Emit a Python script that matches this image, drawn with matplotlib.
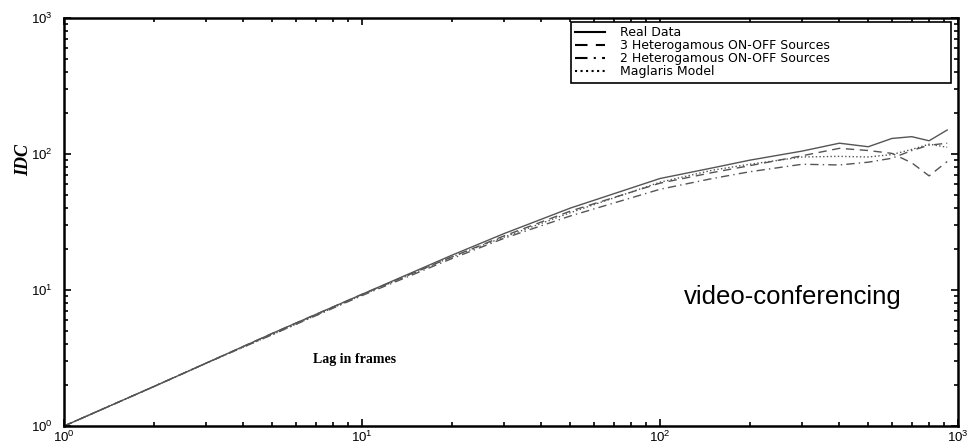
import matplotlib
matplotlib.use("Agg")
import matplotlib.pyplot as plt
from matplotlib.ticker import LogLocator, NullFormatter

plt.rcParams['font.family'] = ['Liberation Sans', 'DejaVu Sans']
plt.rcParams['mathtext.default'] = 'regular'

# lag in frames
lag = [1, 2, 3, 5, 10, 20, 30, 50, 100, 150, 200, 300, 400, 500, 600, 700, 800, 920]

real_data = [1, 1.95, 2.9, 4.8, 9.3, 18, 26, 40, 66, 79, 90, 105, 120, 113, 130, 134, 125, 150]
het3 = [1, 1.95, 2.9, 4.8, 9.3, 17.5, 25, 38, 61, 73, 82, 97, 110, 106, 101, 86, 69, 88]
het2 = [1, 1.95, 2.9, 4.7, 9.1, 17, 24, 35, 55, 66, 74, 84, 83, 87, 93, 106, 116, 120]
maglaris = [1, 1.95, 2.9, 4.7, 9.2, 17.5, 24.5, 37, 62, 76, 84, 95, 96, 95, 99, 108, 118, 112]

labels = ['Real Data', '3 Heterogamous ON-OFF Sources',
          '2 Heterogamous ON-OFF Sources', 'Maglaris Model']

fig = plt.figure(figsize=(9.7, 4.48), dpi=100)
ax = fig.add_axes([0.066, 0.049, 0.9216, 0.911])

lc = '#555555'
ax.plot(lag, real_data, '-', color=lc, lw=1.0, label=labels[0])
ax.plot(lag, het3, '--', color=lc, lw=1.0, dashes=(6, 4), label=labels[1])
ax.plot(lag, het2, '-.', color=lc, lw=1.0, dashes=(6, 3, 1, 3), label=labels[2])
ax.plot(lag, maglaris, ':', color=lc, lw=1.0, label=labels[3])

ax.set_xscale('log')
ax.set_yscale('log')
ax.set_xlim(1, 1000)
ax.set_ylim(1, 1000)

ax.xaxis.set_major_locator(LogLocator(base=10, numticks=10))
ax.yaxis.set_major_locator(LogLocator(base=10, numticks=10))
ax.xaxis.set_minor_locator(LogLocator(base=10, subs=range(2, 10), numticks=20))
ax.yaxis.set_minor_locator(LogLocator(base=10, subs=range(2, 10), numticks=20))
ax.xaxis.set_minor_formatter(NullFormatter())
ax.yaxis.set_minor_formatter(NullFormatter())

ax.tick_params(which='both', direction='in', top=True, right=True,
               labelsize=9.5, width=1.2)
ax.tick_params(which='major', length=5)
ax.tick_params(axis='y', which='major', pad=8)
ax.tick_params(axis='x', which='major', pad=3)
ax.tick_params(which='minor', length=3)
for s in ax.spines.values():
    s.set_linewidth(1.8)

ax.text(-0.045, 0.652, 'IDC', transform=ax.transAxes, rotation=90,
        ha='center', va='center', fontsize=13, fontweight='bold',
        fontstyle='italic', family='Liberation Serif')
ax.text(0.3255, 0.162, 'Lag in frames', transform=ax.transAxes,
        ha='center', va='center', fontsize=10, fontweight='bold',
        family='Liberation Serif')
ax.text(0.815, 0.316, 'video-conferencing', transform=ax.transAxes,
        ha='center', va='center', fontsize=18.5)

leg = ax.legend(loc='upper left', bbox_to_anchor=(0.567, 0.99, 0.425, 0),
                mode='expand', borderaxespad=0,
                prop={'family': 'DejaVu Sans', 'size': 9},
                fancybox=False, framealpha=1, edgecolor='black',
                handlelength=2.4, handletextpad=1.2, labelspacing=0.0,
                borderpad=0.35)
leg.get_frame().set_linewidth(1.2)
for h in leg.get_lines():
    h.set_color('black')
    h.set_linewidth(1.5)

fig.savefig('out.png', dpi=100)
